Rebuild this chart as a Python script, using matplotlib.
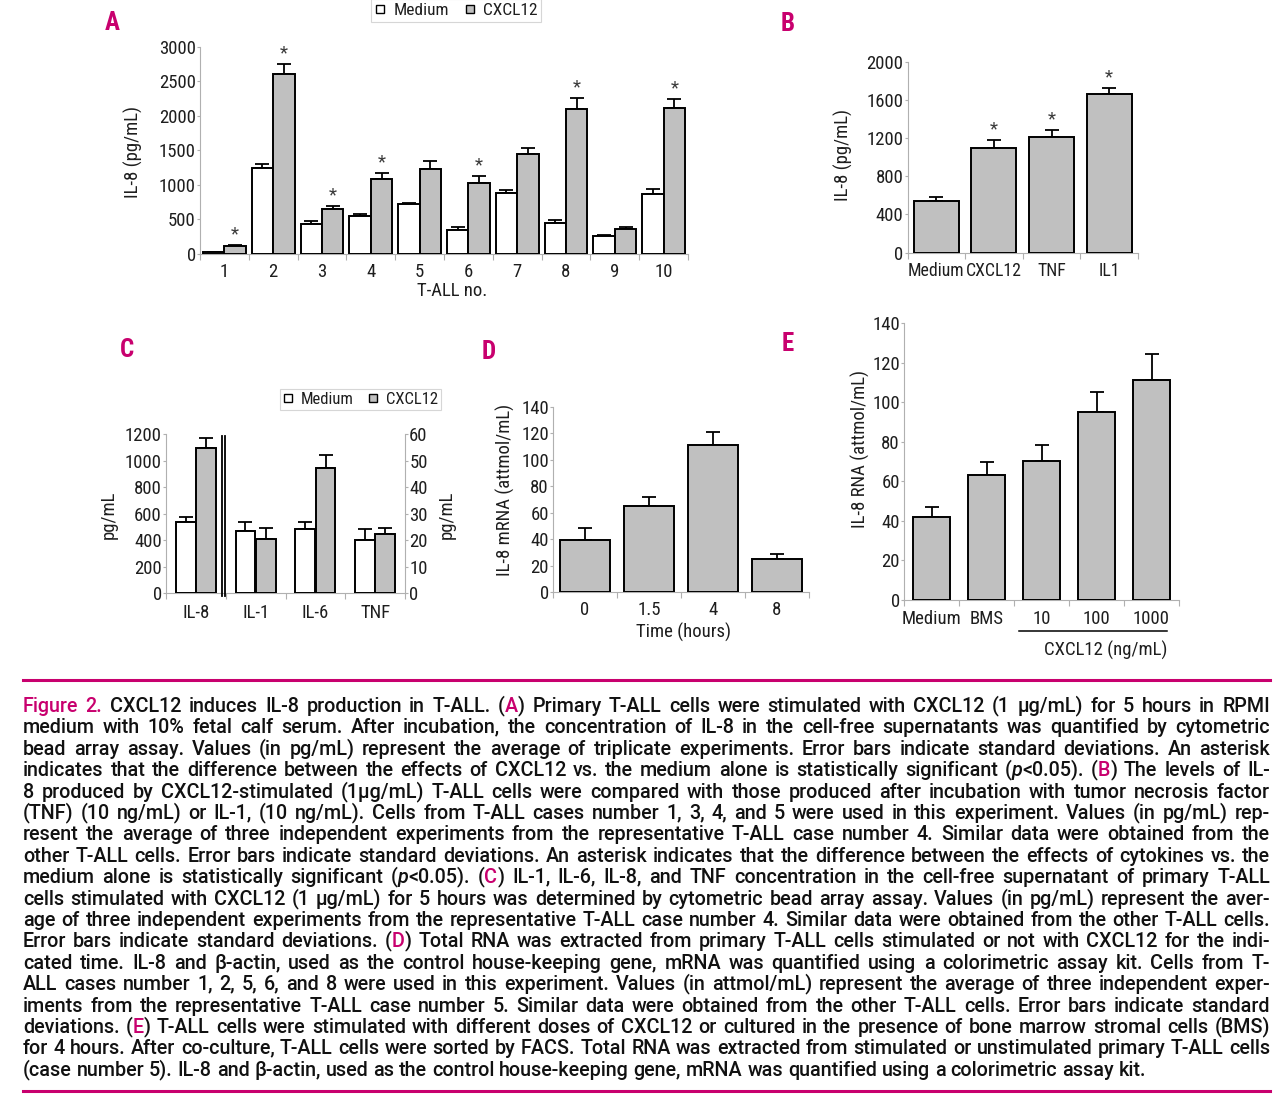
import math
import matplotlib
matplotlib.use('Agg')
import matplotlib.pyplot as plt
from matplotlib import font_manager as fm
from matplotlib.lines import Line2D
import matplotlib.transforms as mtransforms
import numpy as np

# ---------------- data ----------------
a_cases = ['1', '2', '3', '4', '5', '6', '7', '8', '9', '10']
a_medium = [22, 1240, 434, 545, 719, 352, 887, 453, 265, 873]
a_medium_sd = [14, 60, 45, 40, 24, 43, 39, 40, 15, 70]
a_cxcl12 = [116, 2605, 651, 1090, 1235, 1027, 1442, 2093, 362, 2117]
a_cxcl12_sd = [14, 150, 44, 80, 105, 105, 87, 163, 24, 130]
a_sig = [True, True, True, True, False, True, False, True, False, True]

b_labels = ['Medium', 'CXCL12', 'TNF', 'IL1']
b_values = [540, 1100, 1210, 1660]
b_sd = [42, 80, 80, 72]
b_sig = [False, True, True, True]

c_labels = ['IL-8', 'IL-1', 'IL-6', 'TNF']
c_medium = [538, 23.6, 24.2, 20.1]
c_medium_sd = [41, 3.3, 2.7, 4.1]
c_cxcl12 = [1097, 20.6, 47.3, 22.4]
c_cxcl12_sd = [73, 4.1, 4.9, 2.3]

d_labels = ['0', '1.5', '4', '8']
d_values = [39.4, 64.9, 111, 25.2]
d_sd = [9.3, 7.1, 10, 3.6]

e_labels = ['Medium', 'BMS', '10', '100', '1000']
e_values = [42, 63.4, 70.5, 94.8, 111]
e_sd = [5.2, 6.6, 7.9, 10.2, 13.1]

caption_lines = [
    "{Figure 2.} CXCL12 induces IL-8 production in T-ALL. ({A}) Primary T-ALL cells were stimulated with CXCL12 (1 μg/mL) for 5 hours in RPMI",
    "medium with 10% fetal calf serum. After incubation, the concentration of IL-8 in the cell-free supernatants was quantified by cytometric",
    "bead array assay. Values (in pg/mL) represent the average of triplicate experiments. Error bars indicate standard deviations. An asterisk",
    "indicates that the difference between the effects of CXCL12 vs. the medium alone is statistically significant ([p]<0.05). ({B}) The levels of IL-",
    "8 produced by CXCL12-stimulated (1μg/mL) T-ALL cells were compared with those produced after incubation with tumor necrosis factor",
    "(TNF) (10 ng/mL) or IL-1, (10 ng/mL). Cells from T-ALL cases number 1, 3, 4, and 5 were used in this experiment. Values (in pg/mL) rep-",
    "resent the average of three independent experiments from the representative T-ALL case number 4. Similar data were obtained from the",
    "other T-ALL cells. Error bars indicate standard deviations. An asterisk indicates that the difference between the effects of cytokines vs. the",
    "medium alone is statistically significant ([p]<0.05). ({C}) IL-1, IL-6, IL-8, and TNF concentration in the cell-free supernatant of primary T-ALL",
    "cells stimulated with CXCL12 (1 μg/mL) for 5 hours was determined by cytometric bead array assay. Values (in pg/mL) represent the aver-",
    "age of three independent experiments from the representative T-ALL case number 4. Similar data were obtained from the other T-ALL cells.",
    "Error bars indicate standard deviations. ({D}) Total RNA was extracted from primary T-ALL cells stimulated or not with CXCL12 for the indi-",
    "cated time. IL-8 and β-actin, used as the control house-keeping gene, mRNA was quantified using a colorimetric assay kit. Cells from T-",
    "ALL cases number 1, 2, 5, 6, and 8 were used in this experiment. Values (in attmol/mL) represent the average of three independent exper-",
    "iments from the representative T-ALL case number 5. Similar data were obtained from the other T-ALL cells. Error bars indicate standard",
    "deviations. ({E}) T-ALL cells were stimulated with different doses of CXCL12 or cultured in the presence of bone marrow stromal cells (BMS)",
    "for 4 hours. After co-culture, T-ALL cells were sorted by FACS. Total RNA was extracted from stimulated or unstimulated primary T-ALL cells",
    "(case number 5). IL-8 and β-actin, used as the control house-keeping gene, mRNA was quantified using a colorimetric assay kit.",
]

# ---------------- setup ----------------
W, H = 1280, 1108
fig = plt.figure(figsize=(W / 100, H / 100), dpi=100)
fig.patch.set_facecolor('white')

ttf = fm.fontManager.ttflist
names = {f.name for f in ttf}
NARROW = 'DejaVu Sans'
for cand in ['Liberation Sans Narrow', 'Roboto Condensed', 'Open Sans Condensed', 'Liberation Sans']:
    if cand in names:
        NARROW = cand
        break
plt.rcParams['font.family'] = [NARROW, 'DejaVu Sans']

CAPF, CAPW = ['DejaVu Sans'], 'normal'
for fam, wt in [('Roboto', 500), ('Inter', 500), ('Noto Sans', 500), ('Open Sans', 600)]:
    if any(f.name == fam and f.weight == wt and f.style == 'normal' for f in ttf):
        CAPF, CAPW = [fam, 'DejaVu Sans'], wt
        break

MAG = '#C8006E'
GRAY = '#C0C0C0'
AXC = '#B0B0B0'
TXT = '#1e1e1e'
CAPC = '#111111'
FS = 13.5


def px_axes(x0, y0, x1, y1):
    return fig.add_axes([x0 / W, 1 - y1 / H, (x1 - x0) / W, (y1 - y0) / H])


def style(ax, labels, ylim, yticks, pad=6.5, xfs=FS):
    n = len(labels)
    ax.set_xlim(-0.5, n - 0.5)
    ax.set_ylim(*ylim)
    ax.set_yticks(yticks)
    for s in ['top', 'right']:
        ax.spines[s].set_visible(False)
    for s in ['left', 'bottom']:
        ax.spines[s].set_color(AXC)
        ax.spines[s].set_linewidth(0.8)
    ax.set_xticks(np.arange(n + 1) - 0.5)
    ax.set_xticklabels([])
    ax.set_xticks(np.arange(n), minor=True)
    ax.set_xticklabels(labels, minor=True)
    ax.tick_params(axis='x', which='major', length=4, color=AXC, width=0.8, direction='out')
    ax.tick_params(axis='x', which='minor', length=0, pad=pad, labelsize=xfs, labelcolor=TXT)
    ax.tick_params(axis='y', length=2.5, color=AXC, width=0.8, pad=0.5, labelsize=FS, labelcolor=TXT)
    ax.patch.set_alpha(0)


def bars(ax, x, vals, sd, w, color):
    ax.bar(x, vals, w, color=color, edgecolor='black', linewidth=1.4, zorder=3)
    ax.errorbar(x, vals, yerr=[np.zeros(len(vals)), sd], fmt='none', ecolor='black',
                elinewidth=1.3, capsize=4.7, capthick=1.3, zorder=2)


def stars(ax, x, vals, sd, sig):
    for xi, v, s, g in zip(x, vals, sd, sig):
        if g:
            ax.annotate('*', (xi, v + s), xytext=(0, 1), textcoords='offset points',
                        ha='center', va='bottom', fontsize=FS, color='#3a3a3a')


def ftext(x, y, s, **kw):
    kw.setdefault('fontsize', FS)
    kw.setdefault('color', TXT)
    kw.setdefault('ha', 'center')
    kw.setdefault('va', 'center')
    return fig.text(x / W, 1 - y / H, s, **kw)


def panel_letter(x, y, s):
    ftext(x, y, s, fontsize=18, fontweight='bold', color=MAG)


def legend_at(cx, cy, fs=12.5):
    hs = [Line2D([], [], marker='s', markersize=5.5, markerfacecolor='white', markeredgecolor='black',
                 markeredgewidth=1.0, linestyle='none'),
          Line2D([], [], marker='s', markersize=5.5, markerfacecolor=GRAY, markeredgecolor='black',
                 markeredgewidth=1.0, linestyle='none')]
    lg = fig.legend(hs, ['Medium', 'CXCL12'], loc='center', bbox_to_anchor=(cx / W, 1 - cy / H),
                    ncol=2, frameon=True, fancybox=False, fontsize=fs, handlelength=0.6,
                    handletextpad=0.45, columnspacing=0.9, borderpad=0.2, borderaxespad=0)
    lg.get_frame().set_edgecolor('#CCCCCC')
    lg.get_frame().set_linewidth(0.8)
    for t in lg.get_texts():
        t.set_color(TXT)


# ---------------- Panel A ----------------
axA = px_axes(200, 46.7, 688, 254)
xa = np.arange(len(a_cases))
bars(axA, xa - 0.22, a_medium, a_medium_sd, 0.44, 'white')
bars(axA, xa + 0.22, a_cxcl12, a_cxcl12_sd, 0.44, GRAY)
stars(axA, xa + 0.22, a_cxcl12, a_cxcl12_sd, a_sig)
style(axA, a_cases, (0, 3000), [0, 500, 1000, 1500, 2000, 2500, 3000])
ftext(133, 152, 'IL-8 (pg/mL)', rotation=90)
ftext(452, 291, 'T-ALL no.')
panel_letter(112, 23, 'A')
legend_at(456, 10.5)

# ---------------- Panel B ----------------
axB = px_axes(907.5, 62, 1138, 252.5)
xb = np.arange(len(b_labels))
bars(axB, xb, b_values, b_sd, 0.78, GRAY)
stars(axB, xb, b_values, b_sd, b_sig)
style(axB, b_labels, (0, 2000), [0, 400, 800, 1200, 1600, 2000], xfs=12.8)
ftext(843.5, 155, 'IL-8 (pg/mL)', rotation=90)
panel_letter(788, 24, 'B')

# ---------------- Panel C ----------------
axC = px_axes(166, 434.3, 405, 593.3)
style(axC, c_labels, (0, 1200), [0, 200, 400, 600, 800, 1000, 1200], pad=8)
axC2 = axC.twinx()
axC2.set_ylim(0, 60)
axC2.set_yticks([0, 10, 20, 30, 40, 50, 60])
for s in ['top', 'left', 'bottom']:
    axC2.spines[s].set_visible(False)
axC2.spines['right'].set_color(AXC)
axC2.spines['right'].set_linewidth(0.8)
axC2.tick_params(axis='y', length=2.5, color=AXC, width=0.8, pad=0.5, labelsize=FS, labelcolor=TXT)
xc = np.arange(len(c_labels))
bars(axC, xc[:1] - 0.17, c_medium[:1], c_medium_sd[:1], 0.33, 'white')
bars(axC, xc[:1] + 0.17, c_cxcl12[:1], c_cxcl12_sd[:1], 0.33, GRAY)
bars(axC2, xc[1:] - 0.17, c_medium[1:], c_medium_sd[1:], 0.33, 'white')
bars(axC2, xc[1:] + 0.17, c_cxcl12[1:], c_cxcl12_sd[1:], 0.33, GRAY)
for xv in (0.44, 0.495):
    axC.axvline(xv, ymin=-0.015, ymax=0.99, color='black', lw=1.3, clip_on=False, zorder=4)
ftext(109, 515, 'pg/mL', rotation=90)
ftext(447, 515, 'pg/mL', rotation=90)
panel_letter(127, 350, 'C')
legend_at(360.5, 399.5, fs=12)

# ---------------- Panel D ----------------
axD = px_axes(553, 407, 809, 592)
xd = np.arange(len(d_labels))
bars(axD, xd, d_values, d_sd, 0.77, GRAY)
style(axD, d_labels, (0, 140), [0, 20, 40, 60, 80, 100, 120, 140])
ftext(505, 490, 'IL-8 mRNA (attmol/mL)', rotation=90)
ftext(683, 632, 'Time (hours)')
panel_letter(489, 352, 'D')

# ---------------- Panel E ----------------
axE = px_axes(904, 323, 1179, 600)
xe = np.arange(len(e_labels))
bars(axE, xe, e_values, e_sd, 0.67, GRAY)
style(axE, e_labels, (0, 140), [0, 20, 40, 60, 80, 100, 120, 140], pad=7.5)
ftext(860, 449, 'IL-8 RNA (attmol/mL)', rotation=90)
trE = mtransforms.blended_transform_factory(axE.transData, axE.transAxes)
axE.plot([1.59, 4.28], [-0.112, -0.112], transform=trE, clip_on=False, color='black', lw=1.1)
axE.text(3.17, -0.181, 'CXCL12 (ng/mL)', transform=trE, ha='center', va='center', fontsize=FS, color=TXT)
panel_letter(788, 344, 'E')

# ---------------- caption (justified, one text per word piece) ----------------
fig.add_artist(Line2D([23 / W, 1270 / W], [1 - 680 / H] * 2, color=MAG, lw=2.2))
fig.add_artist(Line2D([23 / W, 1270 / W], [1 - 1091 / H] * 2, color=MAG, lw=2.2))


def parse(line):
    segs, st, buf = [], 'n', ''
    for ch in line:
        if ch in '{[':
            if buf:
                segs.append((buf, st))
            buf = ''
            st = 'm' if ch == '{' else 'i'
        elif ch in '}]':
            if buf:
                segs.append((buf, st))
            buf, st = '', 'n'
        else:
            buf += ch
    if buf:
        segs.append((buf, st))
    words, cur = [], []
    for txt, s in segs:
        parts = txt.split(' ')
        for k, p in enumerate(parts):
            if k > 0 and cur:
                words.append(cur)
                cur = []
            if p:
                cur.append((p, s))
    if cur:
        words.append(cur)
    return words


renderer = fig.canvas.get_renderer()
fs0 = 12.0
parsed = []
for line in caption_lines:
    wl = []
    for word in parse(line):
        segl = []
        for txt, s in word:
            t = fig.text(0, 0, txt, fontsize=fs0, family=CAPF, fontweight=CAPW,
                         color=MAG if s == 'm' else CAPC,
                         style='italic' if s == 'i' else 'normal', ha='left', va='baseline')
            segl.append(t)
        wl.append(segl)
    parsed.append(wl)

sp = fig.text(0, 0, 'a a', fontsize=fs0, family=CAPF, fontweight=CAPW)
sp2 = fig.text(0, 0, 'aa', fontsize=fs0, family=CAPF, fontweight=CAPW)


def measure():
    sw = sp.get_window_extent(renderer).width - sp2.get_window_extent(renderer).width
    res = []
    for wl in parsed:
        res.append([[t.get_window_extent(renderer).width for t in segl] for segl in wl])
    return sw, res


x_left, x_right = 23.0, 1270.0
span = x_right - x_left
sw, widths = measure()
nat = [sum(sum(w) for w in ws) + sw * (len(ws) - 1) for ws in widths]
fs = fs0 * span / max(nat[:-1]) * 0.995
for wl in parsed:
    for segl in wl:
        for t in segl:
            t.set_fontsize(fs)
sp.set_fontsize(fs)
sp2.set_fontsize(fs)
sw, widths = measure()
sp.remove()
sp2.remove()

try:
    from matplotlib.backends.backend_agg import get_hinting_flag
    _flag = get_hinting_flag()
except Exception:
    _flag = None


def baseline_fix(t, yb):
    """Agg places each text bitmap with integer truncation; return the row shift
    needed so that every word piece sits on the same pixel baseline."""
    if _flag is None:
        return 0
    try:
        font = renderer._prepare_font(t._fontproperties)
        font.set_text(t.get_text(), 0, flags=_flag)
        w, h = font.get_width_height()
        d = font.get_descent()
        D = d / 64.0
        rows = round(yb + D) - (h // 64) + ((h - d) // 64)
        return rows - yb
    except Exception:
        return 0


base0, step = 712.0, 21.4
for i, (wl, ws) in enumerate(zip(parsed, widths)):
    yb = round(base0 + i * step)
    total = sum(sum(w) for w in ws)
    if i < len(parsed) - 1 and len(ws) > 1:
        gap = (span - total) / (len(ws) - 1)
    else:
        gap = sw
    x = x_left
    for segl, wseg in zip(wl, ws):
        for t, w in zip(segl, wseg):
            err = baseline_fix(t, yb)
            t.set_position((x / W, 1 - (yb - err) / H))
            x += w
        x += gap

fig.savefig('out.png', dpi=100, facecolor='white')
